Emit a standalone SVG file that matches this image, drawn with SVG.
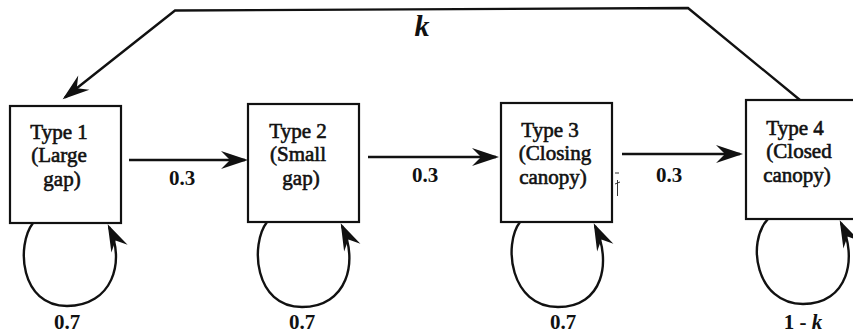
<svg xmlns="http://www.w3.org/2000/svg" width="853" height="333" viewBox="0 0 853 333">
  <style>
    .box { fill: #fff; stroke: #111; stroke-width: 2.2; }
    .lbl { font-family: "Liberation Serif", "Times New Roman", serif; font-weight: bold; font-size: 21px; fill: #111; text-anchor: middle; }
    .name { font-family: "Liberation Serif", "Times New Roman", serif; font-size: 21px; fill: #111; stroke: #111; stroke-width: 0.6; text-anchor: middle; }
    .it { font-style: italic; }
    .edge { fill: none; stroke: #111; stroke-width: 2.4; marker-end: url(#ah); }
  </style>
  <defs>
    <marker id="ah" markerUnits="userSpaceOnUse" markerWidth="34" markerHeight="24" viewBox="-30 -12 34 24" refX="-3" refY="0" orient="auto" overflow="visible">
      <path d="M0,0 L-27,-9 L-18,0 L-27,9 Z" fill="#111"/>
    </marker>
  </defs>
  <rect width="853" height="333" fill="#fff"/>

  <!-- state boxes -->
  <g id="type1">
    <rect class="box" x="10" y="106" width="111" height="117"/>
    <text class="name" x="59" y="139">Type 1</text>
    <text class="name" x="59" y="162">(Large</text>
    <text class="name" x="62" y="186">gap)</text>
  </g>
  <g id="type2">
    <rect class="box" x="248" y="104" width="111" height="118"/>
    <text class="name" x="298" y="138">Type 2</text>
    <text class="name" x="298" y="161">(Small</text>
    <text class="name" x="301" y="185">gap)</text>
  </g>
  <g id="type3">
    <rect class="box" x="501" y="103" width="111" height="119"/>
    <text class="name" x="550" y="137">Type 3</text>
    <text class="name" x="555" y="160">(Closing</text>
    <text class="name" x="553" y="184">canopy)</text>
  </g>
  <g id="type4">
    <rect class="box" x="746" y="100" width="115" height="119"/>
    <text class="name" x="795" y="135">Type 4</text>
    <text class="name" x="799" y="158">(Closed</text>
    <text class="name" x="797" y="182">canopy)</text>
  </g>

  <!-- transitions -->
  <g id="connectors">
    <path class="edge" d="M800,100 L688,8 L175,10.5 L65,97.5"/>
    <path class="edge" d="M129,160 L245,160"/>
    <path class="edge" d="M368,157 L496,157"/>
    <path class="edge" d="M622,154 L740,154"/>
    <!-- self loops -->
    <path class="edge" d="M33,223 C16,245 20,306 67,306 C112,306 126,262 109,227"/>
    <path class="edge" d="M267,222 C250,244 254,307 302,307 C347,307 359,262 342,226"/>
    <path class="edge" d="M520,222 C503,244 510,307 558,307 C603,307 612,262 595,226"/>
    <path class="edge" d="M768,219 C746,242 756,304 803,304 C848,304 858,258 841,223"/>
  </g>

  <!-- transition probabilities -->
  <g id="labels">
    <text class="lbl it" x="422" y="36" style="font-size:30px">k</text>
    <text class="lbl" x="182" y="185">0.3</text>
    <text class="lbl" x="425" y="182">0.3</text>
    <text class="lbl" x="669" y="182">0.3</text>
    <text class="lbl" x="67" y="329">0.7</text>
    <text class="lbl" x="302" y="329">0.7</text>
    <text class="lbl" x="563" y="329">0.7</text>
    <text class="lbl" x="803" y="329">1 - <tspan class="it">k</tspan></text>
  </g>

  <!-- small stray mark beside the third box -->
  <path d="M615,173 L619,173 M617.5,180 L617.5,196 M615,184 L620,182" stroke="#333" stroke-width="1" fill="none"/>
</svg>
